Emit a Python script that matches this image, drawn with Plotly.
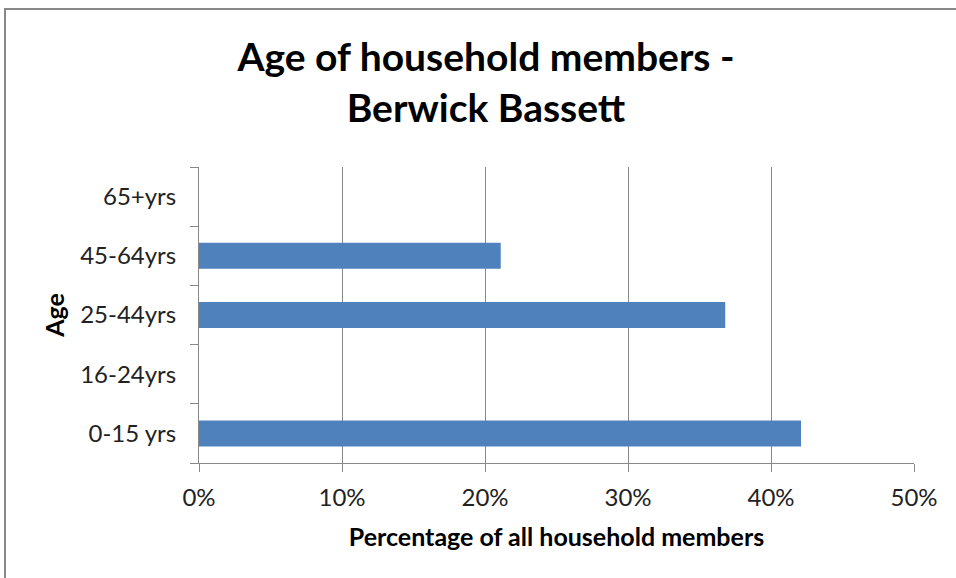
import plotly.graph_objects as go

categories = ["0-15 yrs", "16-24yrs", "25-44yrs", "45-64yrs", "65+yrs"]
values = [42.1, 0, 36.8, 21.1, 0]
x_ticks = [0, 10, 20, 30, 40, 50]

W, H = 956, 578
L, R, T, B = 199, 42, 167, 115
pw, ph = W - L - R, H - T - B

FONT = "Lato, Calibri, Carlito, sans-serif"
grey = "#888888"

fig = go.Figure(go.Bar(
    y=categories, x=values, orientation="h",
    marker=dict(color="#4F81BD", line=dict(width=0)),
    hoverinfo="skip",
))

fig.update_layout(
    width=W, height=H,
    margin=dict(l=L, r=R, t=T, b=B),
    paper_bgcolor="white", plot_bgcolor="white",
    bargap=0.56,
    showlegend=False,
    font=dict(family=FONT, color="#000000"),
    title=dict(
        text="<b>Age of household members -<br>Berwick Bassett</b>",
        x=486 / W, xref="container", xanchor="center",
        y=1 - 71 / H, yref="container", yanchor="middle",
        font=dict(size=39, family=FONT, color="#000000"),
    ),
    xaxis=dict(
        range=[0, 50], tickvals=x_ticks, ticktext=[f"{v}%" for v in x_ticks],
        showgrid=True, gridcolor=grey, gridwidth=1,
        showline=True, linecolor=grey, linewidth=1,
        ticks="outside", ticklen=8, tickcolor=grey,
        tickfont=dict(size=24, color="#222222"),
        ticklabelstandoff=5,
        zeroline=False,
        title=dict(text="<b>Percentage of all household members</b>",
                   font=dict(size=25), standoff=18),
    ),
    yaxis=dict(
        type="category", categoryorder="array", categoryarray=categories,
        showgrid=False,
        showline=True, linecolor=grey, linewidth=1,
        ticks="outside", ticklen=8, tickcolor=grey, tickson="boundaries",
        tickfont=dict(size=24, color="#222222"),
        ticklabelstandoff=17,
        title=dict(text="<b>Age</b>", font=dict(size=25), standoff=8),
    ),
    shapes=[dict(
        type="rect", xref="paper", yref="paper",
        x0=(5 - L) / pw, x1=(W + 10 - L) / pw,
        y0=-(H + 10 - (T + ph)) / ph, y1=(T + ph - 9) / ph,
        line=dict(color=grey, width=2), fillcolor="rgba(0,0,0,0)", layer="below",
    )],
)

fig.write_html(
    "out.html",
    config={"displayModeBar": False},
    post_script="document.body.style.margin='0';document.body.style.overflow='hidden';",
)
